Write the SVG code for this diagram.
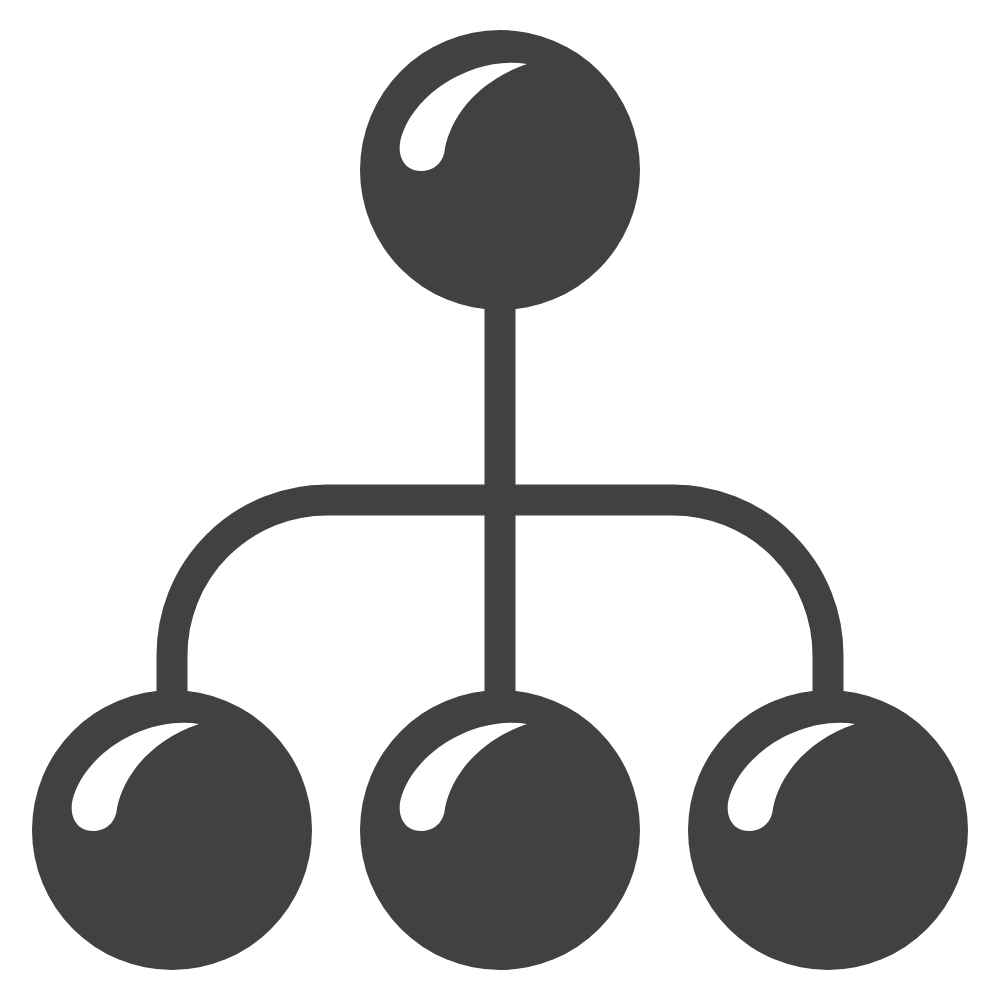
<svg xmlns="http://www.w3.org/2000/svg" width="1000" height="1000" viewBox="0 0 1000 1000">
<defs>
<style>
.ball{fill:#414143}
.shine{fill:#ffffff}
.wire{fill:none;stroke:#414143;stroke-width:31}
</style>
<path id="hl" d="M527,64 C478,56 420,88 403,132 C394,154 404,172 422,171 C437,170 444,160 445,148 C452,114 480,80 527,64 Z"/>
</defs>
<rect width="1000" height="1000" fill="#ffffff"/>
<g id="connectors">
<path class="wire" d="M500,300 V700"/>
<path class="wire" d="M172,700 V655 A155,155 0 0 1 327,500 H673 A155,155 0 0 1 828,655 V700"/>
</g>
<g id="node-top">
<circle class="ball" cx="500" cy="170" r="140"/>
<use href="#hl" class="shine"/>
</g>
<g id="node-left">
<circle class="ball" cx="172" cy="830" r="140"/>
<use href="#hl" class="shine" transform="translate(-328,660)"/>
</g>
<g id="node-middle">
<circle class="ball" cx="500" cy="830" r="140"/>
<use href="#hl" class="shine" transform="translate(0,660)"/>
</g>
<g id="node-right">
<circle class="ball" cx="828" cy="830" r="140"/>
<use href="#hl" class="shine" transform="translate(328,660)"/>
</g>
</svg>
